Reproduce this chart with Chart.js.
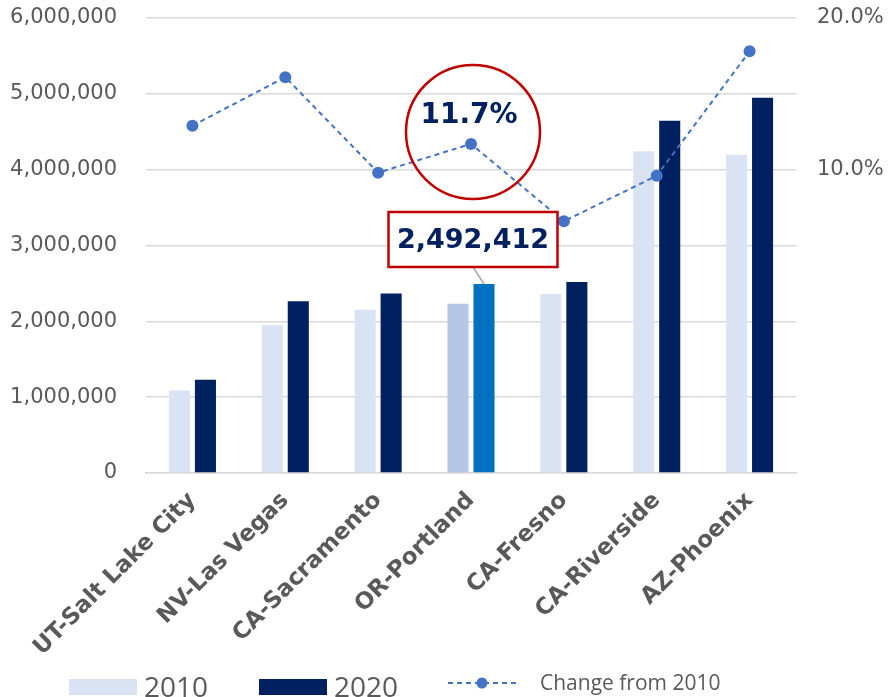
<!DOCTYPE html>
<html>
<head>
<meta charset="utf-8">
<script src="https://cdn.jsdelivr.net/npm/chart.js@4"></script>
<style>
  html, body { margin: 0; padding: 0; background: #ffffff; }
  #wrap { width: 888px; height: 697px; overflow: hidden; }
</style>
</head>
<body>
<div id="wrap"><canvas id="chart" width="888" height="697"></canvas></div>
<script>
// Metro areas, population in 2010 and 2020, and percent change
const categories = ['UT-Salt Lake City', 'NV-Las Vegas', 'CA-Sacramento', 'OR-Portland', 'CA-Fresno', 'CA-Riverside', 'AZ-Phoenix'];
const pop2010 = [1088000, 1950000, 2152000, 2231000, 2362000, 4242000, 4198000];
const pop2020 = [1229000, 2266000, 2366000, 2492412, 2520000, 4646000, 4949000];
const changePct = [12.9, 16.1, 9.8, 11.7, 6.6, 9.6, 17.8];
const leftTicks = [0, 1000000, 2000000, 3000000, 4000000, 5000000, 6000000];
const rightTicks = [10, 20];
const highlight = 'OR-Portland';

const hi = categories.indexOf(highlight);
const c2010 = '#DAE3F3', c2010Hi = '#B4C7E7';
const c2020 = '#002060', c2020Hi = '#0070C0';
const lineColor = '#4472C4';
const textGrey = '#595959';
const red = '#C00000';

const legendPlugin = {
  id: 'bottomLegend',
  afterDraw(chart) {
    const ctx = chart.ctx;
    ctx.save();
    // 2010 swatch + label
    ctx.fillStyle = c2010;
    ctx.fillRect(69, 679, 68, 16);
    ctx.fillStyle = textGrey;
    ctx.font = '28px "Open Sans"';
    ctx.textBaseline = 'alphabetic';
    ctx.textAlign = 'left';
    ctx.fillText(chart.data.datasets[0].label, 144, 697);
    // 2020 swatch + label
    ctx.fillStyle = c2020;
    ctx.fillRect(259, 679, 68, 16);
    ctx.fillStyle = textGrey;
    ctx.fillText(chart.data.datasets[1].label, 334, 697);
    // line sample
    ctx.strokeStyle = lineColor;
    ctx.lineWidth = 2;
    ctx.setLineDash([5, 4]);
    ctx.beginPath();
    ctx.moveTo(448, 683);
    ctx.lineTo(518, 683);
    ctx.stroke();
    ctx.setLineDash([]);
    ctx.fillStyle = lineColor;
    ctx.beginPath();
    ctx.arc(482, 683, 5.5, 0, Math.PI * 2);
    ctx.fill();
    ctx.fillStyle = textGrey;
    ctx.font = '21px "Open Sans"';
    ctx.fillText(chart.data.datasets[2].label, 540, 690);
    ctx.restore();
  }
};

const calloutPlugin = {
  id: 'callouts',
  afterDatasetsDraw(chart) {
    const ctx = chart.ctx;
    const bar = chart.getDatasetMeta(1).data[hi];
    const pt = chart.getDatasetMeta(2).data[hi];
    ctx.save();
    // circle around the change point
    ctx.strokeStyle = red;
    ctx.lineWidth = 2.5;
    ctx.beginPath();
    ctx.arc(pt.x + 2, pt.y - 12, 67, 0, Math.PI * 2);
    ctx.stroke();
    ctx.fillStyle = c2020;
    ctx.font = 'bold 28px "DejaVu Sans"';
    ctx.textAlign = 'center';
    ctx.textBaseline = 'middle';
    ctx.fillText(changePct[hi].toFixed(1) + '%', pt.x - 2, pt.y - 28);

    // boxed value above the 2020 bar
    const bw = 169, bh = 55;
    const bx = bar.x - 11 - bw / 2;
    const by = bar.y - 17 - bh;
    ctx.strokeStyle = '#A6A6A6';
    ctx.lineWidth = 1.5;
    ctx.beginPath();
    ctx.moveTo(bar.x - 11, by + bh);
    ctx.lineTo(bar.x, bar.y);
    ctx.stroke();
    ctx.fillStyle = '#ffffff';
    ctx.fillRect(bx, by, bw, bh);
    ctx.strokeStyle = red;
    ctx.lineWidth = 2.5;
    ctx.strokeRect(bx, by, bw, bh);
    ctx.fillStyle = c2020;
    ctx.font = 'bold 27px "DejaVu Sans"';
    ctx.fillText(pop2020[hi].toLocaleString('en-US'), bar.x - 11, by + bh / 2 + 1);
    ctx.restore();
  }
};

new Chart(document.getElementById('chart'), {
  data: {
    labels: categories,
    datasets: [
      {
        type: 'bar', label: '2010', data: pop2010, yAxisID: 'y', order: 2,
        backgroundColor: categories.map((c, i) => i === hi ? c2010Hi : c2010),
        categoryPercentage: 0.56, barPercentage: 0.81
      },
      {
        type: 'bar', label: '2020', data: pop2020, yAxisID: 'y', order: 2,
        backgroundColor: categories.map((c, i) => i === hi ? c2020Hi : c2020),
        categoryPercentage: 0.56, barPercentage: 0.81
      },
      {
        type: 'line', label: 'Change from 2010', data: changePct, yAxisID: 'y1', order: 1,
        borderColor: lineColor, borderWidth: 2, borderDash: [5, 4],
        pointRadius: 6, pointBackgroundColor: lineColor, pointBorderWidth: 0,
        tension: 0, fill: false
      }
    ]
  },
  options: {
    responsive: false,
    devicePixelRatio: 1,
    animation: false,
    layout: { padding: { top: 18, left: 0, right: 0, bottom: 0 } },
    plugins: { legend: { display: false }, tooltip: { enabled: false } },
    scales: {
      x: {
        grid: { display: false },
        border: { display: true, color: '#D9D9D9', width: 1.5 },
        ticks: {
          color: textGrey, font: { family: 'DejaVu Sans', size: 23, weight: 'bold' },
          minRotation: 45, maxRotation: 45, padding: 6
        },
        afterFit(scale) { scale.height = 224; }
      },
      y: {
        position: 'left', min: 0, max: 6000000,
        grid: { color: '#D9D9D9', lineWidth: 1.5, drawTicks: true, tickLength: 29, tickColor: 'rgba(0,0,0,0)' },
        border: { display: false },
        afterBuildTicks(scale) { scale.ticks = leftTicks.map(v => ({ value: v })); },
        ticks: {
          color: textGrey, font: { family: 'DejaVu Sans', size: 21 }, padding: 0,
          callback: v => v.toLocaleString('en-US')
        },
        afterFit(scale) { scale.width = 146; }
      },
      y1: {
        position: 'right', min: -10, max: 20,
        grid: { display: true, drawOnChartArea: false, drawTicks: true, tickLength: 21, color: 'rgba(0,0,0,0)', tickColor: 'rgba(0,0,0,0)' },
        border: { display: false },
        afterBuildTicks(scale) { scale.ticks = rightTicks.map(v => ({ value: v })); },
        ticks: {
          color: textGrey, font: { family: 'DejaVu Sans', size: 21 }, padding: 0,
          callback: v => v.toFixed(1) + '%'
        },
        afterFit(scale) { scale.width = 92; }
      }
    }
  },
  plugins: [calloutPlugin, legendPlugin]
});
</script>
</body>
</html>
